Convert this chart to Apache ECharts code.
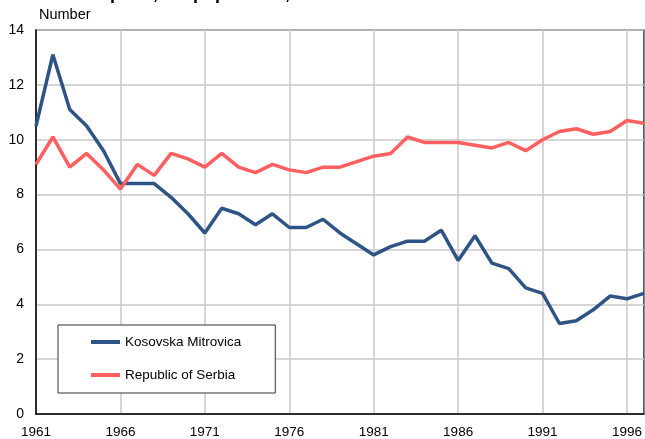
<!DOCTYPE html>
<html>
<head>
    <meta charset="UTF-8">
    <title>Deaths per 1,000 population</title>
    <script src="https://cdn.jsdelivr.net/npm/echarts@6/dist/echarts.min.js"></script>
    <style>
        html, body { margin: 0; padding: 0; background: #fff; }
        #chart { width: 645px; height: 439px; }
    </style>
</head>
<body>
<div id="chart"></div>
<script type="text/javascript">
    // years 1961 - 1997
    const years = [];
    for (let y = 1961; y <= 1997; y++) years.push(String(y));

    // deaths per 1,000 population
    const kosovskaMitrovica = [10.5, 13.1, 11.1, 10.5, 9.6, 8.4, 8.4, 8.4, 7.9, 7.3,
        6.6, 7.5, 7.3, 6.9, 7.3, 6.8, 6.8, 7.1, 6.6, 6.2,
        5.8, 6.1, 6.3, 6.3, 6.7, 5.6, 6.5, 5.5, 5.3, 4.6,
        4.4, 3.3, 3.4, 3.8, 4.3, 4.2, 4.4];
    const serbia = [9.1, 10.1, 9.0, 9.5, 8.9, 8.2, 9.1, 8.7, 9.5, 9.3,
        9.0, 9.5, 9.0, 8.8, 9.1, 8.9, 8.8, 9.0, 9.0, 9.2,
        9.4, 9.5, 10.1, 9.9, 9.9, 9.9, 9.8, 9.7, 9.9, 9.6,
        10.0, 10.3, 10.4, 10.2, 10.3, 10.7, 10.6];

    const font = '"Liberation Sans", Arial, sans-serif';
    let chart = echarts.init(document.getElementById('chart'));

    let option = {
        backgroundColor: '#fff',
        animation: false,
        title: [{
            text: 'Deaths per 1,000 population, 1961-1997',
            left: 40,
            top: -20,
            textStyle: { fontFamily: font, fontSize: 18, fontWeight: 'bold', color: '#000' }
        }, {
            text: 'Number',
            left: 34,
            top: 2,
            textStyle: { fontFamily: font, fontSize: 14.5, fontWeight: 'normal', color: '#000' }
        }],
        legend: {
            orient: 'vertical',
            left: 58,
            top: 325,
            padding: [10, 34, 11, 33],
            itemGap: 19,
            itemWidth: 29,
            itemHeight: 4,
            icon: 'rect',
            borderColor: '#333',
            borderWidth: 1,
            backgroundColor: '#fff',
            textStyle: { fontFamily: font, fontSize: 13.5, color: '#000', padding: [0, 0, 0, 0] },
            data: ['Kosovska Mitrovica', 'Republic of Serbia']
        },
        grid: {
            left: 36,
            right: -1,
            top: 30,
            bottom: 24,
            show: true,
            borderColor: '#444',
            borderWidth: 1.5
        },
        xAxis: {
            type: 'category',
            data: years,
            boundaryGap: false,
            axisLine: { lineStyle: { color: '#000', width: 1.5 } },
            axisTick: { show: false },
            axisLabel: {
                interval: 4,
                margin: 11,
                fontFamily: font,
                fontSize: 13.5,
                color: '#000'
            },
            splitLine: {
                show: true,
                interval: 4,
                lineStyle: { color: '#c8c8c8', width: 1.5 }
            }
        },
        yAxis: {
            type: 'value',
            min: 0,
            max: 14,
            interval: 2,
            axisLine: { show: true, lineStyle: { color: '#000', width: 1.5 } },
            axisTick: { show: false },
            axisLabel: { margin: 12, fontFamily: font, fontSize: 14, color: '#000' },
            splitLine: { lineStyle: { color: '#c8c8c8', width: 1.5 } }
        },
        series: [{
            name: 'Kosovska Mitrovica',
            type: 'line',
            data: kosovskaMitrovica,
            symbol: 'none',
            color: '#2e5485',
            lineStyle: { width: 3.5, color: '#2e5485' }
        }, {
            name: 'Republic of Serbia',
            type: 'line',
            data: serbia,
            symbol: 'none',
            color: '#ff5f5f',
            lineStyle: { width: 3.5, color: '#ff5f5f' }
        }]
    };
    chart.setOption(option);
</script>
</body>
</html>
